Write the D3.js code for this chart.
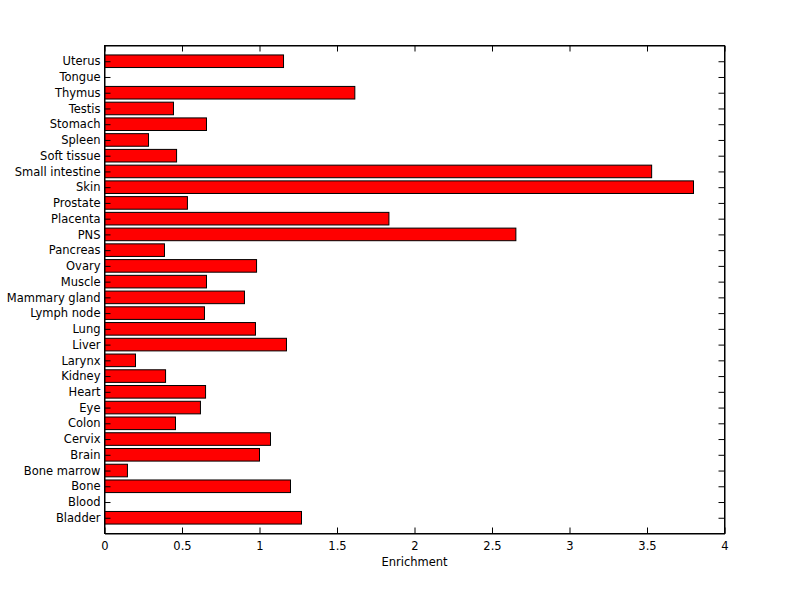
<!DOCTYPE html>
<html><head><meta charset="utf-8">
<script src="https://cdn.jsdelivr.net/npm/d3@7"></script>
<style>body{margin:0;background:#fff;} text{font-family:"DejaVu Sans",sans-serif;font-size:11.5px;fill:#000;}</style>
</head><body>
<svg id="c" width="800" height="599"></svg>
<script>
const categories = ["Bladder","Blood","Bone","Bone marrow","Brain","Cervix","Colon","Eye","Heart","Kidney","Larynx","Liver","Lung","Lymph node","Mammary gland","Muscle","Ovary","Pancreas","PNS","Placenta","Prostate","Skin","Small intestine","Soft tissue","Spleen","Stomach","Testis","Thymus","Tongue","Uterus"];
const values = [1.271,0,1.2,0.148,1.0,1.071,0.458,0.619,0.652,0.394,0.2,1.174,0.974,0.645,0.903,0.658,0.981,0.387,2.654,1.835,0.535,3.80,3.53,0.465,0.284,0.658,0.445,1.615,0,1.155];
const xTicks = [0,0.5,1,1.5,2,2.5,3,3.5,4];
const xLabel = "Enrichment";

const svg = d3.select("#c");
const L = 104.5, R = 724.5, T = 45.5, B = 533.5;
const x = d3.scaleLinear().domain([0,4]).range([L,R]);
const y = d3.scaleLinear().domain([0,categories.length+1]).range([B,T]);
const bw = 0.8;

svg.append("g").selectAll("rect").data(values).join("rect")
  .attr("x", x(0))
  .attr("y", (d,i)=>y(i+1+bw/2))
  .attr("width", d=>d>0? x(d)-x(0):0)
  .attr("height", y(0)-y(bw))
  .attr("fill","#ff0000").attr("stroke","#000").attr("stroke-width",1)
  .style("display", d=>d>0?null:"none");

const tk = 6;
const gb = svg.append("g").attr("transform",`translate(0,${B})`)
  .call(d3.axisBottom(x).tickValues(xTicks).tickFormat(d3.format("")).tickSizeInner(-tk).tickSizeOuter(0).tickPadding(8));
const gt = svg.append("g").attr("transform",`translate(0,${T})`)
  .call(d3.axisTop(x).tickValues(xTicks).tickFormat("").tickSizeInner(-tk).tickSizeOuter(0));
const idx = d3.range(1, categories.length+1);
const gl = svg.append("g").attr("transform",`translate(${L},0)`)
  .call(d3.axisLeft(y).tickValues(idx).tickFormat(i=>categories[i-1]).tickSizeInner(-tk).tickSizeOuter(0).tickPadding(4));
const gr = svg.append("g").attr("transform",`translate(${R},0)`)
  .call(d3.axisRight(y).tickValues(idx).tickFormat("").tickSizeInner(-tk).tickSizeOuter(0));
[gb,gt,gl,gr].forEach(g=>{
  g.selectAll("path").attr("stroke","#000");
  g.selectAll("line").attr("stroke","#000");
  g.selectAll("text").attr("font-family",null).attr("font-size",null).attr("fill","#000");
});
gl.selectAll(".tick text").attr("x",-4);
svg.append("rect").attr("x",L).attr("y",T).attr("width",R-L).attr("height",B-T)
  .attr("fill","none").attr("stroke","#000");

svg.append("text").attr("x",(L+R)/2).attr("y",566).attr("text-anchor","middle").text(xLabel);
</script>
</body></html>
